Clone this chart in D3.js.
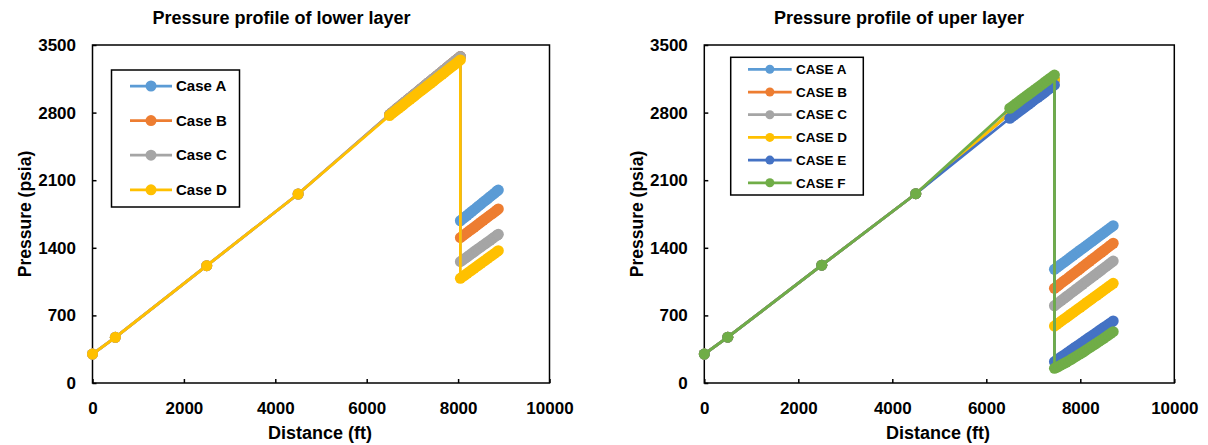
<!DOCTYPE html>
<html>
<head>
<meta charset="utf-8">
<script src="https://cdn.jsdelivr.net/npm/d3@7/dist/d3.min.js"></script>
<style>
  body { margin: 0; background: #fff; }
  svg { display: block; font-family: "Liberation Sans", Arial, sans-serif; font-weight: bold; }
</style>
</head>
<body>
<svg id="chart" width="1208" height="445"></svg>
<script>
const xTicks = [0, 2000, 4000, 6000, 8000, 10000];
const yTicks = [0, 700, 1400, 2100, 2800, 3500];

// lower layer
const lowerCases = ['Case A', 'Case B', 'Case C', 'Case D'];
const lowerTrunkDist = [0, 500, 2500, 4500,
  6500, 6550, 6600, 6650, 6700, 6750, 6800, 6850, 6900, 6950, 7000, 7050, 7100, 7150, 7200, 7250,
  7300, 7350, 7400, 7450, 7500, 7550, 7600, 7650, 7700, 7750, 7800, 7850, 7900, 7950, 8000, 8050];
const lowerTrunkABC = [300, 473, 1215, 1957,
  2780, 2799, 2819, 2838, 2857, 2877, 2896, 2915, 2935, 2954, 2974, 2993, 3012, 3032, 3051, 3070,
  3090, 3109, 3128, 3148, 3167, 3186, 3206, 3225, 3245, 3264, 3283, 3303, 3322, 3341, 3361, 3380];
const lowerTrunkD = [300, 473, 1215, 1957,
  2770, 2789, 2807, 2826, 2844, 2863, 2881, 2900, 2918, 2937, 2956, 2974, 2993, 3011, 3030, 3048,
  3067, 3085, 3104, 3122, 3141, 3160, 3178, 3197, 3215, 3234, 3252, 3271, 3289, 3308, 3326, 3345];
const lowerTailDist = [8050, 8100, 8150, 8200, 8250, 8300, 8350, 8400, 8450, 8500, 8550, 8600, 8650, 8700, 8750, 8800, 8850, 8880];
const lowerTailA = [1680, 1699, 1718, 1737, 1757, 1776, 1795, 1814, 1833, 1852, 1872, 1891, 1910, 1929, 1948, 1967, 1987, 1998];
const lowerTailB = [1505, 1523, 1541, 1559, 1577, 1594, 1612, 1630, 1648, 1666, 1684, 1702, 1720, 1738, 1755, 1773, 1791, 1802];
const lowerTailC = [1256, 1273, 1290, 1307, 1324, 1342, 1359, 1376, 1393, 1410, 1427, 1444, 1461, 1478, 1496, 1513, 1530, 1540];
const lowerTailD = [1084, 1101, 1118, 1136, 1153, 1170, 1187, 1205, 1222, 1239, 1256, 1273, 1291, 1308, 1325, 1342, 1360, 1370];

// upper layer
const upperCases = ['CASE A', 'CASE B', 'CASE C', 'CASE D', 'CASE E', 'CASE F'];
const upperTrunkDist = [0, 500, 2500, 4500,
  6500, 6550, 6600, 6650, 6700, 6750, 6800, 6850, 6900, 6950, 7000, 7050, 7100, 7150, 7200, 7250,
  7300, 7350, 7400, 7450];
const upperTrunkAD = [300, 475, 1220, 1960,
  2795, 2813, 2831, 2849, 2868, 2886, 2904, 2922, 2940, 2958, 2977, 2995, 3013, 3031, 3049, 3067,
  3086, 3104, 3122, 3140];
const upperTrunkE = [300, 475, 1220, 1960,
  2741, 2759, 2777, 2795, 2814, 2832, 2850, 2868, 2886, 2904, 2923, 2941, 2959, 2977, 2995, 3013,
  3032, 3050, 3068, 3086];
const upperTrunkF = [300, 475, 1220, 1960,
  2845, 2863, 2881, 2899, 2917, 2936, 2954, 2972, 2990, 3008, 3026, 3044, 3062, 3080, 3098, 3117,
  3135, 3153, 3171, 3189];
const upperTailDist = [7450, 7500, 7550, 7600, 7650, 7700, 7750, 7800, 7850, 7900, 7950, 8000, 8050,
  8100, 8150, 8200, 8250, 8300, 8350, 8400, 8450, 8500, 8550, 8600, 8650, 8700];
const upperTailA = [1177, 1195, 1213, 1231, 1249, 1267, 1285, 1304, 1322, 1340, 1358, 1376, 1394,
  1412, 1430, 1448, 1466, 1484, 1502, 1521, 1539, 1557, 1575, 1593, 1611, 1629];
const upperTailB = [980, 999, 1017, 1036, 1055, 1073, 1092, 1111, 1129, 1148, 1167, 1185, 1204,
  1223, 1242, 1260, 1279, 1298, 1316, 1335, 1354, 1372, 1391, 1410, 1428, 1447];
const upperTailC = [800, 819, 837, 856, 874, 893, 911, 930, 948, 967, 985, 1004, 1022,
  1041, 1059, 1078, 1096, 1115, 1133, 1152, 1170, 1189, 1207, 1226, 1244, 1263];
const upperTailD = [590, 608, 625, 643, 661, 678, 696, 714, 731, 749, 767, 784, 802,
  820, 838, 855, 873, 891, 908, 926, 944, 961, 979, 997, 1014, 1032];
const upperTailE = [221, 238, 255, 272, 288, 305, 322, 339, 356, 373, 389, 406, 423,
  440, 457, 474, 490, 507, 524, 541, 558, 575, 591, 608, 625, 642];
const upperTailF = [152, 163, 175, 188, 201, 215, 229, 243, 258, 273, 288, 303, 318,
  334, 350, 366, 382, 398, 414, 430, 446, 463, 480, 497, 514, 531];

const palette = ['#5B9BD5', '#ED7D31', '#A5A5A5', '#FFC000', '#4472C4', '#70AD47'];

const pts = (dist, vals) => dist.map((d, i) => ({ d, p: vals[i] }));

const lowerSeries = [
  pts(lowerTrunkDist, lowerTrunkABC).concat(pts(lowerTailDist, lowerTailA)),
  pts(lowerTrunkDist, lowerTrunkABC).concat(pts(lowerTailDist, lowerTailB)),
  pts(lowerTrunkDist, lowerTrunkABC).concat(pts(lowerTailDist, lowerTailC)),
  pts(lowerTrunkDist, lowerTrunkD).concat(pts(lowerTailDist, lowerTailD))
].map((values, i) => ({ name: lowerCases[i], color: palette[i], values }));

const upperSeries = [
  pts(upperTrunkDist, upperTrunkAD).concat(pts(upperTailDist, upperTailA)),
  pts(upperTrunkDist, upperTrunkAD).concat(pts(upperTailDist, upperTailB)),
  pts(upperTrunkDist, upperTrunkAD).concat(pts(upperTailDist, upperTailC)),
  pts(upperTrunkDist, upperTrunkAD).concat(pts(upperTailDist, upperTailD)),
  pts(upperTrunkDist, upperTrunkE).concat(pts(upperTailDist, upperTailE)),
  pts(upperTrunkDist, upperTrunkF).concat(pts(upperTailDist, upperTailF))
].map((values, i) => ({ name: upperCases[i], color: palette[i], values }));

const svg = d3.select('#chart');

function drawPanel(opt) {
  const top = 45, bottom = 383;
  const x = d3.scaleLinear().domain([0, 10000]).range([opt.left, opt.right]);
  const y = d3.scaleLinear().domain([0, 3500]).range([bottom, top]);
  const g = svg.append('g');

  // plot frame
  g.append('rect')
    .attr('x', opt.left).attr('y', top)
    .attr('width', opt.right - opt.left).attr('height', bottom - top)
    .attr('fill', 'none').attr('stroke', '#000').attr('stroke-width', 1.5);

  const fmt = d3.format('d');
  const xAxis = g.append('g')
    .attr('transform', `translate(0,${bottom})`)
    .call(d3.axisBottom(x).tickValues(xTicks).tickFormat(fmt).tickSizeInner(-4).tickSizeOuter(0).tickPadding(19));
  const yAxis = g.append('g')
    .attr('transform', `translate(${opt.left},0)`)
    .call(d3.axisLeft(y).tickValues(yTicks).tickFormat(fmt).tickSizeInner(-4).tickSizeOuter(0).tickPadding(16.5));

  [xAxis, yAxis].forEach(a => {
    a.attr('font-family', null).attr('font-size', 17).attr('color', '#000');
    a.select('.domain').remove();
    a.selectAll('line').attr('stroke-width', 1.5);
  });

  // series
  const line = d3.line().x(v => x(v.d)).y(v => y(v.p));
  opt.series.forEach(s => {
    const sg = g.append('g');
    sg.append('path').datum(s.values)
      .attr('d', line).attr('fill', 'none')
      .attr('stroke', s.color).attr('stroke-width', 2.75).attr('stroke-linejoin', 'round');
    sg.selectAll('circle').data(s.values).enter().append('circle')
      .attr('cx', v => x(v.d)).attr('cy', v => y(v.p))
      .attr('r', 5.5).attr('fill', s.color);
  });

  // titles
  g.append('text').attr('x', opt.titleX).attr('y', 24)
    .attr('text-anchor', 'middle').attr('font-size', 18).text(opt.title);
  g.append('text').attr('x', opt.xTitleX).attr('y', 439)
    .attr('text-anchor', 'middle').attr('font-size', 18).text('Distance (ft)');
  g.append('text')
    .attr('transform', `translate(${opt.yTitleX},214) rotate(-90)`)
    .attr('text-anchor', 'middle').attr('dy', '0.35em').attr('font-size', 17.5)
    .text('Pressure (psia)');

  // legend
  const L = opt.legend;
  const lg = g.append('g');
  lg.append('rect')
    .attr('x', L.x).attr('y', L.y).attr('width', L.w).attr('height', L.h)
    .attr('fill', '#fff').attr('stroke', '#000').attr('stroke-width', 1.5);
  opt.series.forEach((s, i) => {
    const cy = L.firstY + i * L.step;
    lg.append('line')
      .attr('x1', L.lineX1).attr('x2', L.lineX2).attr('y1', cy).attr('y2', cy)
      .attr('stroke', s.color).attr('stroke-width', 2.75);
    lg.append('circle')
      .attr('cx', (L.lineX1 + L.lineX2) / 2).attr('cy', cy).attr('r', L.r).attr('fill', s.color);
    lg.append('text')
      .attr('x', L.textX).attr('y', cy).attr('dy', '0.35em')
      .attr('font-size', L.fontSize).text(s.name);
  });
}

drawPanel({
  left: 92.5, right: 549.5,
  series: lowerSeries,
  title: 'Pressure profile of lower layer', titleX: 281.5,
  xTitleX: 320, yTitleX: 25,
  legend: { x: 111.5, y: 70, w: 128, h: 137, firstY: 86, step: 34.6,
            lineX1: 130, lineX2: 172, r: 5.5, textX: 176, fontSize: 15 }
});

drawPanel({
  left: 704.3, right: 1174.3,
  series: upperSeries,
  title: 'Pressure profile of uper layer', titleX: 899,
  xTitleX: 938, yTitleX: 637,
  legend: { x: 730.7, y: 57.3, w: 132.6, h: 137.7, firstY: 69.3, step: 22.7,
            lineX1: 748, lineX2: 791.7, r: 4.5, textX: 796, fontSize: 13.5 }
});
</script>
</body>
</html>
